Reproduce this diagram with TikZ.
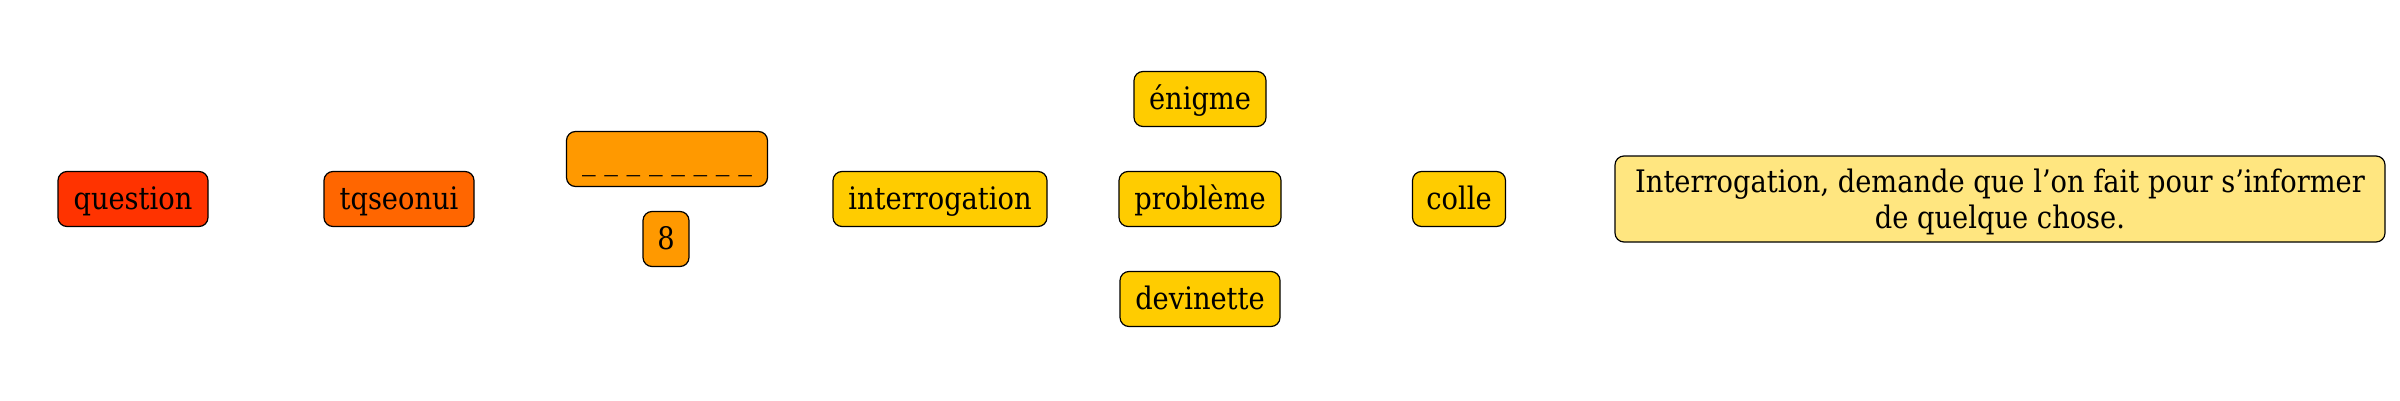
\documentclass[tikz,border=0pt]{standalone}
\usepackage{fontspec}
\setmainfont{DejaVu Serif}[FakeStretch=0.88]
\definecolor{cred}{HTML}{FF3300}
\definecolor{corange}{HTML}{FF6600}
\definecolor{camber}{HTML}{FF9900}
\definecolor{cyellow}{HTML}{FFCC00}
\definecolor{clight}{HTML}{FFE680}
\tikzset{
  box/.style={draw=black, line width=1.2pt, rounded corners=9pt, minimum height=55pt,
    inner xsep=6pt, inner ysep=0pt, font=\fontsize{31}{38}\selectfont, text=black},
  oneline/.style={text height=28pt, text depth=7.75pt},
}
\begin{document}
\begin{tikzpicture}[x=1pt,y=1pt]
\useasboundingbox (0,0) rectangle (2400,400);
\node[box, oneline, fill=cred, minimum width=150pt] (question) at (133,201) {question};
\node[box, oneline, fill=corange, minimum width=150pt] (tqseonui) at (399,201) {tqseonui};
\node[box, oneline, fill=camber, minimum width=201pt] (blanks) at (667,241) {\_ \_ \_ \_ \_ \_ \_ \_};
\node[box, oneline, fill=camber, minimum width=46pt] (eight) at (666,161) {8};
\node[box, oneline, fill=cyellow, minimum width=214pt] (interrogation) at (940,201) {interrogation};
\node[box, oneline, fill=cyellow, minimum width=132pt] (enigme) at (1200,301) {énigme};
\node[box, oneline, fill=cyellow, minimum width=162pt] (probleme) at (1200,201) {problème};
\node[box, oneline, fill=cyellow, minimum width=160pt] (devinette) at (1200,101) {devinette};
\node[box, oneline, fill=cyellow, minimum width=93pt] (colle) at (1459,201) {colle};
\node[box, fill=clight, minimum width=770pt, minimum height=86pt, align=center,
  font=\fontsize{31}{36}\selectfont] (definition) at (2000,201)
  {\rule{0pt}{30pt}Interrogation, demande que l’on fait pour s’informer\\de quelque chose.};
\end{tikzpicture}
\end{document}
